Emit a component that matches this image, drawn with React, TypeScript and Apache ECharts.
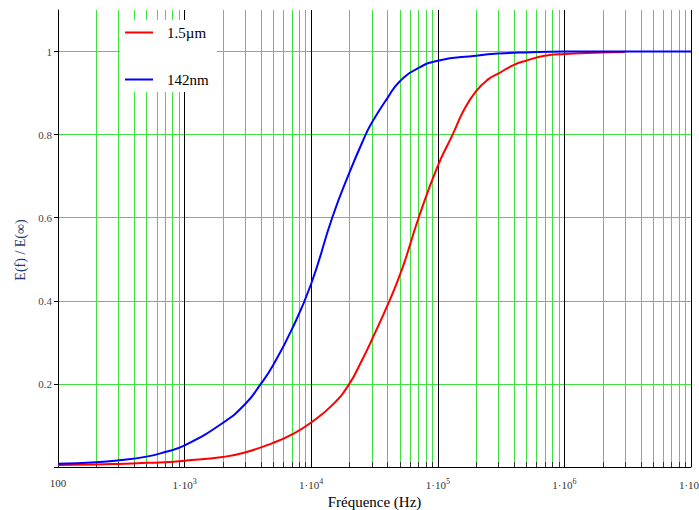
import React, { useEffect, useRef } from 'react';
import * as echarts from 'echarts';

// Frequencies (Hz) and normalized values E(f)/E(inf)
const freqRed = [100, 200, 300, 500, 700, 1000, 2000, 3000, 5000, 7000, 10000, 15000, 20000, 25000, 30000, 41500, 50000, 55500, 70600, 100000, 131000, 160000, 200000, 250000, 300000, 400000, 500000, 700000, 1000000, 2000000, 3000000];
const valRed = [0.005, 0.006, 0.0075, 0.01, 0.0115, 0.015, 0.024, 0.035, 0.058, 0.078, 0.107, 0.152, 0.2, 0.255, 0.305, 0.4, 0.461, 0.5, 0.6, 0.725, 0.8, 0.858, 0.904, 0.933, 0.947, 0.968, 0.978, 0.99, 0.994, 0.998, 0.999];

const freqBlue = [100, 200, 300, 500, 700, 1000, 2000, 3000, 4000, 5000, 7000, 10000, 14650, 20000, 26500, 30000, 40000, 50000, 70000, 100000, 200000, 300000, 500000, 1000000, 10000000];
const valBlue = [0.008, 0.0115, 0.016, 0.025, 0.036, 0.052, 0.106, 0.151, 0.2, 0.245, 0.33, 0.441, 0.6, 0.708, 0.795, 0.828, 0.888, 0.928, 0.96, 0.978, 0.99, 0.995, 0.998, 1.0, 1.0];

const seriesNames = ['1.5\u00b5m', '142nm'];
const decades = [100, 1000, 10000, 100000, 1000000];
const minorMultipliers = [2, 3, 4, 5, 6, 7, 8, 9];

export default function App() {
  const ref = useRef<HTMLDivElement>(null);
  useEffect(() => {
    document.body.style.margin = '0';
    if (!ref.current) return;
    const chart = echarts.init(ref.current, undefined, { renderer: 'svg' });
    const minorFreqs: number[][] = [];
    decades.forEach((d) => minorMultipliers.forEach((m) => minorFreqs.push([d * m, 0])));
    const serif = 'Liberation Serif';
    chart.setOption({
      animation: false,
      backgroundColor: '#fff',
      grid: { left: 58, right: 8, top: 10, bottom: 43, containLabel: false, outerBoundsMode: 'none' },
      legend: {
        data: seriesNames,
        orient: 'vertical',
        left: 120,
        top: 20,
        itemWidth: 28,
        itemHeight: 2,
        icon: 'rect',
        itemGap: 32,
        backgroundColor: '#fff',
        padding: [5, 8, 5, 5],
        textStyle: { fontFamily: serif, fontSize: 15, color: '#000', padding: [0, 0, 0, 9] },
      },
      xAxis: {
        type: 'log',
        logBase: 10,
        min: 100,
        max: 10000000,
        name: 'Fr\u00e9quence (Hz)',
        nameLocation: 'middle',
        nameGap: 22,
        nameTextStyle: { fontFamily: serif, fontSize: 15, color: '#000' },
        axisLine: { lineStyle: { color: '#000', width: 1 } },
        axisTick: { show: false },
        splitLine: { show: true, lineStyle: { color: '#000', width: 1 } },
        axisLabel: {
          margin: 10,
          fontFamily: serif,
          fontSize: 11,
          color: '#333',
          formatter: (v: number) => {
            const e = Math.round(Math.log10(v));
            if (e === 2) return '100';
            return '1\u00b710{sup|' + e + '}';
          },
          rich: {
            sup: { fontFamily: serif, fontSize: 8, color: '#333', padding: [0, 0, 7, 0] },
          },
        },
      },
      yAxis: {
        type: 'value',
        min: 0,
        max: 1.1,
        interval: 0.2,
        axisLine: { show: true, lineStyle: { color: '#000', width: 1 } },
        axisTick: { show: true, length: 4, lineStyle: { color: '#000' } },
        splitLine: { show: true, showMinLine: false, showMaxLine: false, lineStyle: { color: '#40e040', width: 1 } },
        axisLabel: {
          margin: 6,
          fontFamily: serif,
          fontSize: 11,
          color: '#444',
          showMaxLabel: false,
          formatter: (v: number) => {
            if (v === 0 || v > 1.05) return '';
            if (Math.abs(v - 1) < 1e-9) return '1';
            return v.toFixed(1);
          },
        },
      },
      graphic: [
        {
          type: 'text',
          x: 20,
          y: 250,
          rotation: Math.PI / 2,
          style: {
            text: 'E(f) / E(\u221e)',
            fontFamily: serif,
            fontSize: 14,
            fill: '#1f3a73',
            align: 'center',
            verticalAlign: 'middle',
          },
        },
      ],
      series: [
        {
          type: 'custom',
          name: 'minorGrid',
          silent: true,
          data: minorFreqs,
          encode: { x: 0, y: 1 },
          renderItem: (params: any, api: any) => {
            const f = api.value(0);
            const top = api.coord([f, 1.1]);
            const bot = api.coord([f, 0]);
            const x = Math.round(top[0]) + 0.5;
            return {
              type: 'group',
              children: [
                { type: 'line', shape: { x1: x, y1: top[1], x2: x, y2: bot[1] }, style: { stroke: '#40e040', lineWidth: 1 } },
                { type: 'line', shape: { x1: x, y1: bot[1] - 5, x2: x, y2: bot[1] }, style: { stroke: '#333', lineWidth: 1 } },
              ],
            };
          },
        },
        {
          type: 'line',
          name: seriesNames[0],
          data: freqRed.map((f, i) => [f, valRed[i]]),
          showSymbol: false,
          smooth: 0.5,
          lineStyle: { color: '#ff0000', width: 2 },
          itemStyle: { color: '#ff0000' },
        },
        {
          type: 'line',
          name: seriesNames[1],
          data: freqBlue.map((f, i) => [f, valBlue[i]]),
          showSymbol: false,
          smooth: 0.5,
          lineStyle: { color: '#0000ff', width: 2 },
          itemStyle: { color: '#0000ff' },
        },
      ],
    });
    return () => chart.dispose();
  }, []);
  return <div ref={ref} style={{ position: 'absolute', left: 0, top: 0, width: 699, height: 510 }} />;
}
